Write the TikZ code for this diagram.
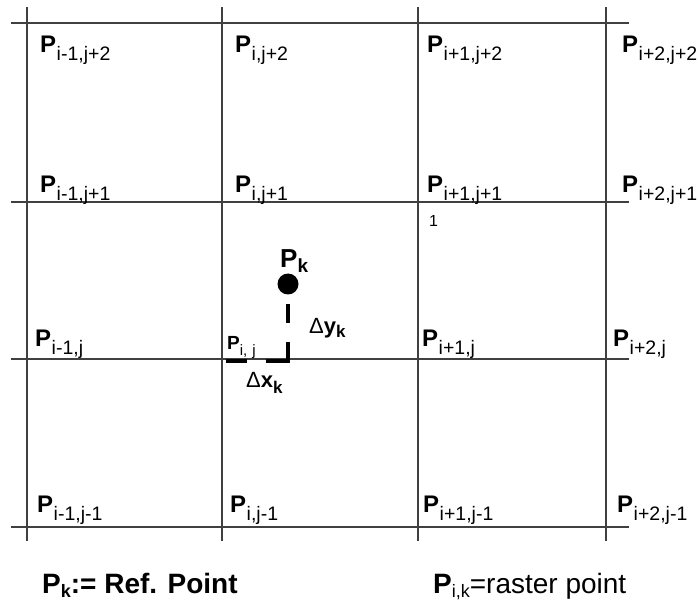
\documentclass[tikz,border=0pt]{standalone}
\usepackage{fontspec}
\setmainfont{Liberation Sans}
\usetikzlibrary{positioning}

% raster point label: bold P with a lowered subscript
\newcommand{\rasterP}[1]{{\fontsize{24}{24}\selectfont\bfseries P}\hspace{0.5pt}\raisebox{-8pt}{\fontsize{19.5}{19.5}\selectfont #1}}
\newcommand{\bigsub}[3]{{\fontsize{#1}{#1}\selectfont\bfseries P}\raisebox{-4pt}{\fontsize{#2}{#2}\selectfont #3}}

\tikzset{
  gridline/.style={line width=1.3pt, black!75},
  plabel/.style={anchor=base west, inner sep=0pt},
  offset/.style={line width=3.4pt, line cap=butt, line join=miter,
    dash pattern=on 19pt off 19pt on 41pt off 19pt on 21pt},
}

\begin{document}
\begin{tikzpicture}[x=1pt,y=-1pt]
  \useasboundingbox (0,0) rectangle (698,601);

  % raster
  \foreach \x in {27,222,418,606}
    \draw[gridline] (\x,7) -- (\x,541);
  \foreach \y in {23,202,359,527}
    \draw[gridline] (11,\y) -- (629,\y);

  % row j+2
  \node[plabel] (pm1p2) at (40,53)  {\rasterP{i-1,j+2}};
  \node[plabel] (p0p2)  at (235,53) {\rasterP{i,j+2}};
  \node[plabel] (p1p2)  at (427,53) {\rasterP{i+1,j+2}};
  \node[plabel] (p2p2)  at (622,53) {\rasterP{i+2,j+2}};
  % row j+1
  \node[plabel] (pm1p1) at (40,193)  {\rasterP{i-1,j+1}};
  \node[plabel] (p0p1)  at (235,193) {\rasterP{i,j+1}};
  \node[plabel] (p1p1)  at (427,193) {\rasterP{i+1,j+1}};
  \node[plabel] (p2p1)  at (622,193) {\rasterP{i+2,j+1}};
  % row j
  \node[plabel] (pm10)  at (35,346)  {\rasterP{i-1,j}};
  \node[plabel] (p10)   at (422,346) {\rasterP{i+1,j}};
  \node[plabel] (p20)   at (613,346) {\rasterP{i+2,j}};
  % row j-1
  \node[plabel] (pm1m1) at (37,512)  {\rasterP{i-1,j-1}};
  \node[plabel] (p0m1)  at (230,512) {\rasterP{i,j-1}};
  \node[plabel] (p1m1)  at (423,512) {\rasterP{i+1,j-1}};
  \node[plabel] (p2m1)  at (617,512) {\rasterP{i+2,j-1}};

  \node[plabel, font=\fontsize{16}{16}\selectfont] (one) at (429,227) {1};

  % reference point and its offset
  \coordinate (pij) at (226,361);
  \coordinate (corner) at (288,361);
  \node[circle, fill, inner sep=0pt, minimum size=21pt] (pk) at (288,284) {};
  \node[plabel] (pklbl) at (280,268)
    {{\fontsize{26}{26}\selectfont\bfseries P}\raisebox{-5pt}{\fontsize{19}{19}\selectfont\bfseries k}};
  \node[plabel] (pijlbl) at (227,349)
    {{\fontsize{19}{19}\selectfont\bfseries P}\raisebox{-6pt}{\fontsize{15}{15}\selectfont i,\,\,j}};
  \draw[offset] (288,304) -- (corner) -- (pij);
  \node[plabel] (dy) at (309,333)
    {{\fontsize{22}{22}\selectfont Δ\bfseries y}\raisebox{-5pt}{\fontsize{17}{17}\selectfont\bfseries k}};
  \node[plabel] (dx) at (246,387)
    {{\fontsize{22}{22}\selectfont Δ\bfseries x}\raisebox{-6pt}{\fontsize{17}{17}\selectfont\bfseries k}};

  % legend
  \node[plabel, font=\bfseries] (refkey) at (42,593)
    {\bigsub{28}{18}{k}{\fontsize{28}{28}\selectfont:= Ref. Point}};
  \node[plabel] (rasterkey) at (433,593)
    {\bigsub{28}{18}{i,k}{\fontsize{28}{28}\selectfont=raster point}};
\end{tikzpicture}
\end{document}
